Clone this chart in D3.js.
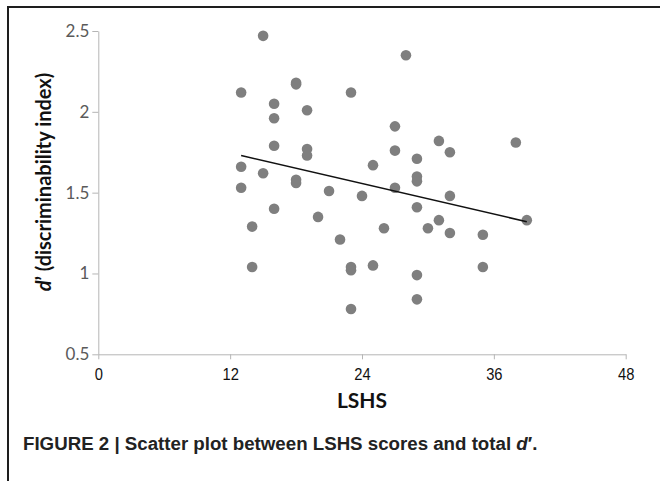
<!DOCTYPE html>
<html lang="en">
<head>
<meta charset="utf-8">
<title>LSHS vs d'</title>
<script src="https://cdn.jsdelivr.net/npm/d3@7"></script>
<style>
  body { margin: 0; background: #fff; }
  svg { display: block; }
</style>
</head>
<body>
<div id="chart"></div>
<script>
// LSHS score per participant
var lshs = [15, 28, 18, 18, 13, 23, 16, 19, 16, 27,
            31, 38, 16, 19, 19, 32, 27, 29, 25, 13,
            15, 29, 29, 18, 18, 27, 13, 21, 32, 24,
            29, 16, 20, 31, 39, 14, 26, 30, 32, 35,
            22, 14, 25, 23, 23, 35, 29, 29, 23];
// total d' per participant
var dprime = [2.47, 2.35, 2.18, 2.17, 2.12, 2.12, 2.05, 2.01, 1.96, 1.91,
              1.82, 1.81, 1.79, 1.77, 1.73, 1.75, 1.76, 1.71, 1.67, 1.66,
              1.62, 1.60, 1.57, 1.58, 1.56, 1.53, 1.53, 1.51, 1.48, 1.48,
              1.41, 1.40, 1.35, 1.33, 1.33, 1.29, 1.28, 1.28, 1.25, 1.24,
              1.21, 1.04, 1.05, 1.04, 1.02, 1.04, 0.99, 0.84, 0.78];
// linear trend line ends
var trendX = [13, 39];
var trendY = [1.73, 1.32];

var xTicks = [0, 12, 24, 36, 48];
var yTicks = [0.5, 1, 1.5, 2, 2.5];

var w = 660, h = 481;

var svg = d3.select("#chart").append("svg")
    .attr("width", w)
    .attr("height", h);

// frame (top and left only)
svg.append("path")
    .attr("d", "M8,481V7H660")
    .attr("fill", "none")
    .attr("stroke", "#1e1e1e")
    .attr("stroke-width", 2);

var xScale = d3.scaleLinear().domain([0, 48]).range([98.3, 625.7]);
var yScale = d3.scaleLinear().domain([0.5, 2.5]).range([354.3, 31]);

var yAxis = svg.append("g")
    .attr("transform", "translate(" + xScale(0) + ",0)")
    .call(d3.axisLeft(yScale).tickValues(yTicks).tickFormat(d3.format("")).tickSize(6).tickSizeOuter(0).tickPadding(3));
yAxis.selectAll("path, line").attr("stroke", "#b5b5b5");
yAxis.selectAll("text")
    .attr("font-family", "Lato, sans-serif")
    .attr("font-size", "17px")
    .attr("fill", "#5a5a5a");

var xAxis = svg.append("g")
    .attr("transform", "translate(0," + yScale(0.5) + ")")
    .call(d3.axisBottom(xScale).tickValues(xTicks).tickSize(5).tickSizeOuter(0).tickPadding(9));
xAxis.selectAll("path, line").attr("stroke", "#b5b5b5");
xAxis.selectAll("text")
    .attr("font-family", "'Liberation Sans', Arial, sans-serif")
    .attr("font-size", "16px")
    .attr("transform", "scale(0.92,1)")
    .attr("fill", "#111");

// points
var pts = lshs.map(function(d, i) { return [d, dprime[i]]; });
svg.selectAll("circle")
    .data(pts)
    .enter()
    .append("circle")
    .attr("cx", function(d) { return xScale(d[0]); })
    .attr("cy", function(d) { return yScale(d[1]); })
    .attr("r", 5.3)
    .attr("fill", "#7f7f7f");

// trend line
svg.append("line")
    .attr("x1", xScale(trendX[0]))
    .attr("y1", yScale(trendY[0]))
    .attr("x2", xScale(trendX[1]))
    .attr("y2", yScale(trendY[1]))
    .attr("stroke", "#111")
    .attr("stroke-width", 1.5);

// axis titles
var yTitle = svg.append("text")
    .attr("transform", "translate(51,182) rotate(-90)")
    .attr("text-anchor", "middle")
    .attr("font-family", "Lato, sans-serif")
    .attr("font-weight", "bold")
    .attr("font-size", "20px")
    .attr("fill", "#111");
yTitle.append("tspan").attr("font-style", "italic").text("d");
yTitle.append("tspan").text("’ (discriminability index)");

svg.append("text")
    .attr("x", 362)
    .attr("y", 408)
    .attr("text-anchor", "middle")
    .attr("font-family", "Lato, sans-serif")
    .attr("font-weight", "bold")
    .attr("font-size", "21px")
    .attr("fill", "#111")
    .text("LSHS");

// caption
var cap = svg.append("text")
    .attr("x", 23)
    .attr("y", 450)
    .attr("font-family", "'Liberation Sans', Arial, sans-serif")
    .attr("font-weight", "bold")
    .attr("font-size", "18.7px")
    .attr("fill", "#222");
cap.append("tspan").text("FIGURE 2 | Scatter plot between LSHS scores and total ");
cap.append("tspan").attr("font-style", "italic").text("d");
cap.append("tspan").text("′.");
</script>
</body>
</html>
